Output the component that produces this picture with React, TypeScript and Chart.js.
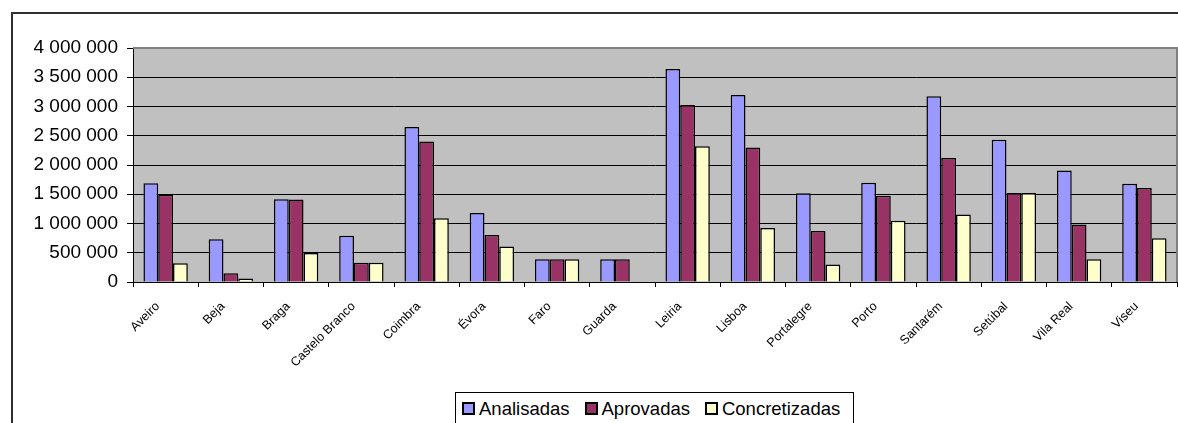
import React, { useEffect, useRef } from 'react';
import { Chart, registerables } from 'chart.js';
Chart.register(...registerables);

const categories = ['Aveiro', 'Beja', 'Braga', 'Castelo Branco', 'Coimbra', 'Évora', 'Faro', 'Guarda', 'Leiria', 'Lisboa', 'Portalegre', 'Porto', 'Santarém', 'Setúbal', 'Vila Real', 'Viseu'];
const analisadas = [1690000, 730000, 1415000, 790000, 2650000, 1180000, 390000, 390000, 3640000, 3195000, 1515000, 1695000, 3175000, 2430000, 1905000, 1680000];
const aprovadas = [1490000, 150000, 1410000, 330000, 2400000, 805000, 390000, 390000, 3025000, 2300000, 870000, 1475000, 2120000, 1520000, 985000, 1605000];
const concretizadas = [320000, 60000, 495000, 330000, 1090000, 605000, 390000, 0, 2320000, 925000, 300000, 1045000, 1155000, 1520000, 390000, 750000];
const seriesNames = ['Analisadas', 'Aprovadas', 'Concretizadas'];
const seriesColors = ['#9999FF', '#993366', '#FFFFCC'];
const yMin = 0;
const yMax = 4000000;
const yStep = 500000;

const FONT = '"Liberation Sans", Arial, sans-serif';
const fmt = (v: number) => String(Math.round(v)).replace(/\B(?=(\d{3})+(?!\d))/g, ' ');

const plotBg = {
  id: 'plotBg',
  beforeDraw(chart: any) {
    const { ctx, chartArea } = chart;
    const { left, top, right, bottom } = chartArea;
    ctx.save();
    ctx.fillStyle = '#C0C0C0';
    ctx.fillRect(left, top, right - left, bottom - top);
    ctx.restore();
  },
  afterDraw(chart: any) {
    const { ctx, chartArea } = chart;
    const { left, top, right, bottom } = chartArea;
    ctx.save();
    ctx.strokeStyle = '#808080';
    ctx.lineWidth = 2;
    ctx.beginPath();
    ctx.moveTo(left, top);
    ctx.lineTo(right, top);
    ctx.lineTo(right, bottom);
    ctx.stroke();
    // rotated category labels, anchored on the x scale
    const xs = chart.scales.x;
    const labels = chart.data.labels as string[];
    ctx.fillStyle = '#000';
    ctx.font = `12.5px ${FONT}`;
    ctx.textAlign = 'right';
    ctx.textBaseline = 'middle';
    labels.forEach((lab, i) => {
      const px = xs.getPixelForValue(i);
      ctx.save();
      ctx.translate(px - 8, bottom + 22.5);
      ctx.rotate(-Math.PI / 4);
      ctx.fillText(lab, 0, 0);
      ctx.restore();
    });
    ctx.restore();
  },
};

export default function App() {
  const ref = useRef<HTMLCanvasElement | null>(null);
  useEffect(() => {
    if (!ref.current) return;
    const seriesData = [analisadas, aprovadas, concretizadas];
    const chart = new Chart(ref.current, {
      type: 'bar',
      data: {
        labels: categories,
        datasets: seriesNames.map((name, i) => ({
          label: name,
          data: seriesData[i],
          backgroundColor: seriesColors[i],
          borderColor: '#000000',
          borderWidth: 1.5,
          categoryPercentage: 0.68,
          barPercentage: 1,
        })),
      },
      options: {
        responsive: false,
        animation: false,
        devicePixelRatio: 1,
        layout: { padding: { top: 48, right: 1, bottom: 61, left: 0 } },
        plugins: { legend: { display: false }, tooltip: { enabled: false } },
        scales: {
          x: {
            afterFit: (s: any) => { s.height = 80; },
            grid: { drawOnChartArea: false, drawTicks: true, tickLength: 5, tickColor: '#000', offset: true },
            border: { color: '#000', width: 1 },
            ticks: { display: false, autoSkip: false },
          },
          y: {
            min: yMin,
            max: yMax,
            afterFit: (s: any) => { s.width = 133; },
            grid: { color: '#000', lineWidth: 1, tickLength: 6, tickColor: '#000' },
            border: { color: '#000', width: 1 },
            ticks: {
              stepSize: yStep,
              color: '#000',
              padding: 9,
              font: { family: FONT, size: 19 },
              callback: (v: any) => fmt(Number(v)),
            },
          },
        },
      },
      plugins: [plotBg],
    });
    return () => chart.destroy();
  }, []);

  return (
    <div>
      <div style={{ position: 'fixed', left: 11, top: 12, width: 1300, height: 600, borderLeft: '2px solid #303030', borderTop: '2px solid #303030' }} />
      <canvas ref={ref} width={1178} height={423} style={{ position: 'fixed', left: 0, top: 0, width: 1178, height: 423 }} />
      <div style={{ position: 'fixed', left: 455, top: 392, width: 399, height: 50, boxSizing: 'border-box', border: '1px solid #000', background: '#fff', display: 'flex', alignItems: 'center', paddingLeft: 6, paddingTop: 0, paddingBottom: 17, fontFamily: FONT, fontSize: 18.5, color: '#000', lineHeight: '20px' }}>
        {seriesNames.map((n, i) => (
          <span key={n} style={{ display: 'inline-flex', alignItems: 'center', marginRight: i < seriesNames.length - 1 ? 15 : 0 }}>
            <span style={{ display: 'inline-block', width: 13, height: 13, boxSizing: 'border-box', border: '2px solid #000', background: seriesColors[i], marginRight: 4 }} />
            {n}
          </span>
        ))}
      </div>
    </div>
  );
}
